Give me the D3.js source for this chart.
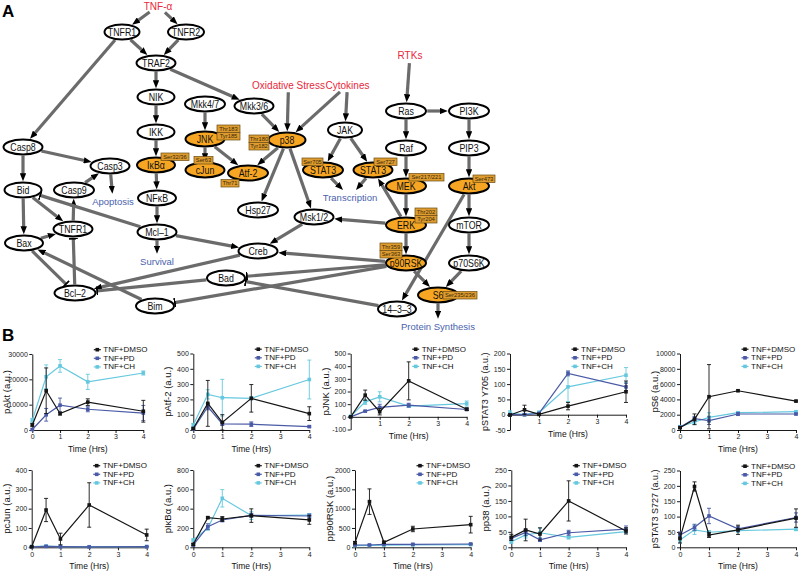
<!DOCTYPE html>
<html><head><meta charset="utf-8">
<script src="https://cdn.jsdelivr.net/npm/d3@7"></script>
<style>body{margin:0;background:#fff}svg{display:block}</style>
</head><body>
<svg id="c" width="800" height="574"></svg>
<script>
// ================= DATA =================
// Panel B: time points and series
const times = [0, 0.5, 1, 2, 4];
const seriesNames = ["TNF+DMSO", "TNF+PD", "TNF+CH"];
const xTicks = [0, 1, 2, 3, 4];

// each: [DMSO, PD, CH] means and errors at the time points
const pAktMean = [[2000,15500,6500,11000,7400],[200,6000,9800,8200,6700],[3800,21000,25300,19000,22500]];
const pAktErr  = [[500,9000,600,1300,4300],[300,2500,2800,1000,3000],[800,4700,2500,3000,800]];
const pAktTicks = [0,10000,20000,30000];

const pAtf2Mean = [[10,174,50,207,107],[5,152,40,38,22],[33,233,211,207,330]];
const pAtf2Err  = [[5,150,50,90,45],[3,20,10,15,5],[10,30,120,10,127]];
const pAtf2Ticks = [0,100,200,300,400,500];

const pJNKMean = [[0,171,40,284,60],[0,45,74,92,58],[5,118,158,84,105]];
const pJNKErr  = [[3,40,25,150,10],[3,5,25,15,5],[3,20,40,10,20]];
const pJNKTicks = [-100,0,100,200,300,400,500];

const pSTAT3YMean = [[-1,16,1,28,75],[0,0,4,135,91],[5,0,7,91,129]];
const pSTAT3YErr  = [[3,15,3,12,35],[3,3,3,8,12],[8,3,5,48,25]];
const pSTAT3YTicks = [-50,0,50,100,150,200];

const pS6Mean = [[300,1400,4350,5130,3780],[350,1480,1220,2090,2090],[430,1040,1650,2260,2390]];
const pS6Err  = [[100,700,4200,100,100],[100,300,500,200,100],[100,300,600,100,100]];
const pS6Ticks = [0,2000,4000,6000,8000,10000];

const pcJunMean = [[3,193,43,219,64],[2,5,3,2,3],[4,6,4,3,4]];
const pcJunErr  = [[2,60,30,115,30],[1,2,1,1,1],[1,2,1,1,1]];
const pcJunTicks = [0,100,200,300,400];

const pIkBaMean = [[31,307,293,328,283],[24,214,283,331,324],[76,197,507,328,334]];
const pIkBaErr  = [[10,10,25,70,45],[10,30,20,20,20],[10,20,90,40,15]];
const pIkBaTicks = [0,200,400,600,800];

const pp90RSKMean = [[120,1181,129,474,586],[60,60,78,78,86],[45,50,55,60,70]];
const pp90RSKErr  = [[30,330,30,70,215],[10,10,10,10,10],[10,10,10,10,10]];
const pp90RSKTicks = [0,500,1000,1500,2000];

const pp38Mean = [[32,56,43,150,53],[29,48,24,47,59],[18,40,47,32,51]];
const pp38Err  = [[10,35,20,65,10],[5,10,5,8,10],[5,10,15,5,5]];
const pp38Ticks = [0,50,100,150,200,250];

const pSTAT3SMean = [[29,198,40,57,95],[40,65,102,60,97],[24,57,49,54,59]];
const pSTAT3SErr  = [[15,15,8,15,30],[10,10,25,8,15],[10,15,5,5,5]];
const pSTAT3STicks = [0,50,100,150,200,250];

const chartNames = ["pAkt (a.u.)","pAtf-2 (a.u.)","pJNK (a.u.)","pSTAT3 Y705 (a.u.)","pS6 (a.u.)",
                    "pcJun (a.u.)","pI\u03BAB\u03B1 (a.u.)","pp90RSK (a.u.)","pp38 (a.u.)","pSTAT3 S727 (a.u.)"];
const chartMeans = [pAktMean,pAtf2Mean,pJNKMean,pSTAT3YMean,pS6Mean,pcJunMean,pIkBaMean,pp90RSKMean,pp38Mean,pSTAT3SMean];
const chartErrs  = [pAktErr,pAtf2Err,pJNKErr,pSTAT3YErr,pS6Err,pcJunErr,pIkBaErr,pp90RSKErr,pp38Err,pSTAT3SErr];
const chartTicks = [pAktTicks,pAtf2Ticks,pJNKTicks,pSTAT3YTicks,pS6Ticks,pcJunTicks,pIkBaTicks,pp90RSKTicks,pp38Ticks,pSTAT3STicks];

// Panel A: network
const nodeLabels = {
  TNFR1:"TNFR1", TNFR2:"TNFR2", TRAF2:"TRAF2", NIK:"NIK", IKK:"IKK", IkBa:"I\u03BAB\u03B1", NFkB:"NF\u03BAB",
  Mcl1:"Mcl\u20131", Mkk47:"Mkk4/7", JNK:"JNK", cJun:"cJun", Mkk36:"Mkk3/6", p38:"p38", Atf2:"Atf-2",
  Hsp27:"Hsp27", JAK:"JAK", STAT3a:"STAT3", STAT3b:"STAT3", Msk12:"Msk1/2", Creb:"Creb", Bad:"Bad",
  Bim:"Bim", Bcl2:"Bcl\u20132", Bax:"Bax", TNFR1b:"TNFR1", Bid:"Bid", Casp9:"Casp9", Casp8:"Casp8",
  Casp3:"Casp3", Ras:"Ras", PI3K:"PI3K", Raf:"Raf", PIP3:"PIP3", MEK:"MEK", Akt:"Akt", ERK:"ERK",
  mTOR:"mTOR", p90RSK:"p90RSK", p70S6K:"p70S6K", S6:"S6", b1433:"14\u20133\u20133"
};
const measured = ["IkBa","JNK","cJun","p38","Atf2","STAT3a","STAT3b","MEK","Akt","ERK","p90RSK","S6"];
const inputLabels = {TNFa:"TNF-\u03B1", Ox:"Oxidative Stress", Cyt:"Cytokines", RTKs:"RTKs"};
const outputLabels = {Apop:"Apoptosis", Surv:"Survival", Trans:"Transcription", Prot:"Protein Synthesis"};
const edges = [
  ["TNFa","TNFR1","a"],["TNFa","TNFR2","a"],["TNFR1","TRAF2","a"],["TNFR2","TRAF2","a"],["TNFR1","Casp8","a"],
  ["TRAF2","NIK","a"],["TRAF2","Mkk36","a"],["NIK","IKK","a"],["IKK","IkBa","a"],["IkBa","NFkB","a"],
  ["NFkB","Mcl1","a"],["Mcl1","Surv","a"],["Mkk47","JNK","a"],["JNK","cJun","a"],["JNK","Atf2","a"],
  ["Mkk36","p38","a"],["Ox","p38","a"],["Cyt","p38","a"],["Cyt","JAK","a"],["p38","Atf2","a"],
  ["p38","Hsp27","a"],["p38","Msk12","a"],["JAK","STAT3a","a"],["JAK","STAT3b","a"],["STAT3a","Trans","a"],
  ["STAT3b","Trans","a"],["ERK","STAT3b","a"],["RTKs","Ras","a"],["Ras","PI3K","a"],["Ras","Raf","a"],
  ["Raf","MEK","a"],["PI3K","PIP3","a"],["PIP3","Akt","a"],["MEK","ERK","a"],["Akt","mTOR","a"],
  ["Akt","b1433","a"],["ERK","Msk12","a"],["ERK","p90RSK","a"],["mTOR","p70S6K","a"],["p70S6K","S6","a"],
  ["p90RSK","S6","a"],["S6","Prot","a"],["Msk12","Creb","a"],["Mcl1","Creb","a"],["p90RSK","Creb","a"],
  ["p90RSK","Bad","i"],["p90RSK","Bim","i"],["Creb","Bcl2","a"],["Bad","Bcl2","i"],["b1433","Bad","i"],
  ["Bim","Bax","a"],["Bax","Bcl2","i"],["Bcl2","TNFR1b","i"],["TNFR1b","Casp9","a"],["Bax","TNFR1b","a"],
  ["Bid","TNFR1b","a"],["Bid","Bax","a"],["Casp8","Bid","a"],["Casp8","Casp3","a"],["Casp9","Casp3","a"],
  ["Casp3","Apop","a"],["Mcl1","Bid","i"]
];
const sites = [
  ["IkBa",["Ser32/36"]],["JNK",["Thr183","Tyr185"]],["cJun",["Ser63"]],["p38",["Thr180","Tyr182"]],
  ["Atf2",["Thr71"]],["STAT3a",["Ser705"]],["STAT3b",["Ser727"]],["MEK",["Ser217/221"]],["Akt",["Ser473"]],
  ["ERK",["Thr202","Tyr204"]],["p90RSK",["Thr359","Ser363"]],["S6",["Ser235/236"]]
];

// ================= LAYOUT (positions / sizes) =================
const nodePos = {
  TNFR1:[122,32,17.5], TNFR2:[186,32,18], TRAF2:[156,63,19.5], NIK:[156,97,18.5], IKK:[156,132,18.5],
  IkBa:[156,165,19], NFkB:[157,198,19], Mcl1:[157,232,19.5], Mkk47:[205,104,20], JNK:[205,139,19.5],
  cJun:[205,170,19.5], Mkk36:[254,106,19.5], p38:[287,140,18.5], Atf2:[248,173,20], Hsp27:[258,210,20],
  JAK:[345,130,17], STAT3a:[323,170,20], STAT3b:[373,170,19.5], Msk12:[314,217,19.5], Creb:[258,251,19.5],
  Bad:[226,278,19], Bim:[155,306,19], Bcl2:[75,293,20.5], Bax:[24,243,19], TNFR1b:[73,229,19.5],
  Bid:[23,190,18.5], Casp9:[74,190,20], Casp8:[23,147,19.5], Casp3:[110,166,19.5], Ras:[406,111,20],
  PI3K:[469,111,20], Raf:[406,148,20], PIP3:[469,148,20], MEK:[406,186,20], Akt:[469,186,20],
  ERK:[406,225,20], mTOR:[469,225,20], p90RSK:[406,263,20], p70S6K:[469,263,20], S6:[438,295,20],
  b1433:[397,309,19]
};
const textPos = {
  TNFa:[158,6,14,6], Ox:[288.5,85,36,6], Cyt:[347.5,85,22,6], RTKs:[410,55,13,7],
  Apop:[113,201,22,6], Surv:[157,261,18,6], Trans:[350,197,28,6], Prot:[438,326,36,6]
};
const sitePos = {
  IkBa:[161,153,28], JNK:[217,125,23], cJun:[194,156.5,19], p38:[249,135,20], Atf2:[221,179.5,18],
  STAT3a:[302,158,21], STAT3b:[374,158,23], MEK:[409,173.5,35], Akt:[473,175,22], ERK:[415,208,22],
  p90RSK:[380,243,22], S6:[443,291.5,34]
};
const panels = [
  {x0:32.3,x1:143.3,yt:354,yb:430},{x0:193.3,x1:309.3,yt:353.5,yb:430},{x0:350.7,x1:466.7,yt:353.5,yb:429.5},
  {x0:510,x1:626,yt:353.5,yb:430},{x0:680,x1:796,yt:353.5,yb:430},
  {x0:31.7,x1:146.7,yt:470,yb:547.3},{x0:193.3,x1:309.3,yt:470,yb:547.3},{x0:355,x1:470.7,yt:470,yb:547.3},
  {x0:511.3,x1:626,yt:470,yb:547.3},{x0:680,x1:796,yt:470.5,yb:547.3}
];
const seriesColors = ["#151515","#4a5aa6","#66c8de"];

// ================= DRAW =================
const F = "'Liberation Sans', Arial, sans-serif";
const svg = d3.select("#c");
const defs = svg.append("defs");
defs.append("marker").attr("id","arr").attr("viewBox","0 0 10 8").attr("refX",2.5).attr("refY",4)
  .attr("markerWidth",8).attr("markerHeight",6.4).attr("markerUnits","userSpaceOnUse").attr("orient","auto")
  .append("path").attr("d","M0,0L10,4L0,8Z").attr("fill","#000");
defs.append("marker").attr("id","bar").attr("viewBox","0 0 2 10").attr("refX",1).attr("refY",5)
  .attr("markerWidth",1.8).attr("markerHeight",9).attr("markerUnits","userSpaceOnUse").attr("orient","auto")
  .append("rect").attr("width",2).attr("height",10).attr("fill","#000");

// panel letters
svg.append("text").attr("x",2).attr("y",16.5).attr("font-family",F).attr("font-weight","bold").attr("font-size",17).text("A");
svg.append("text").attr("x",2).attr("y",340.5).attr("font-family",F).attr("font-weight","bold").attr("font-size",17).text("B");

// ---- network ----
const N = {};
Object.keys(nodePos).forEach(k=>{const p=nodePos[k]; N[k]={x:p[0],y:p[1],rx:p[2],ry:7.5};});
Object.keys(textPos).forEach(k=>{const p=textPos[k]; N[k]={x:p[0],y:p[1],rx:p[2],ry:p[3]};});
function clip(n,dx,dy,pad){
  const t=1/Math.sqrt((dx/(n.rx+pad))**2+(dy/(n.ry+pad))**2);
  return [n.x+dx*t,n.y+dy*t];
}
const gE = svg.append("g");
edges.forEach(([s,t,type])=>{
  const a=N[s], b=N[t];
  const dx=b.x-a.x, dy=b.y-a.y, L=Math.hypot(dx,dy);
  const p0=clip(a,dx,dy,1.2);
  const p1=clip(b,-dx,-dy,type==="a"?1.2:2.2);
  let ex=p1[0], ey=p1[1];
  if(type==="a"){ex-=dx/L*6; ey-=dy/L*6;}
  gE.append("line").attr("x1",p0[0]).attr("y1",p0[1]).attr("x2",ex).attr("y2",ey)
    .attr("stroke","#6b6b6b").attr("stroke-width",3.2)
    .attr("marker-end", type==="a"?"url(#arr)":"url(#bar)");
});
const gN = svg.append("g");
Object.keys(nodePos).forEach(k=>{
  const n=N[k];
  gN.append("ellipse").attr("cx",n.x).attr("cy",n.y).attr("rx",n.rx).attr("ry",n.ry)
    .attr("fill", measured.includes(k)?"#f6a623":"#fff").attr("stroke","#000").attr("stroke-width",2);
  const t=gN.append("text").attr("transform",`translate(${n.x},${n.y+0.3}) scale(0.88,1)`)
    .attr("text-anchor","middle").attr("dominant-baseline","central")
    .attr("font-family",F).attr("font-size",10).attr("fill","#111").text(nodeLabels[k]);
  const w=t.node().getComputedTextLength()*0.88, maxW=2*n.rx-5;
  if(w>maxW) t.attr("font-size",10*maxW/w);
});
Object.keys(inputLabels).forEach(k=>{
  const n=N[k];
  gN.append("text").attr("x",n.x).attr("y",n.y).attr("text-anchor","middle").attr("dominant-baseline","central")
    .attr("font-family",F).attr("font-size",10).attr("fill","#e8283c").text(inputLabels[k]);
});
Object.keys(outputLabels).forEach(k=>{
  const n=N[k];
  gN.append("text").attr("x",n.x).attr("y",n.y).attr("text-anchor","middle").attr("dominant-baseline","central")
    .attr("font-family",F).attr("font-size",9.5).attr("fill","#4a62ad").text(outputLabels[k]);
});
sites.forEach(([k,lines])=>{
  const p=sitePos[k];
  lines.forEach((s,i)=>{
    const y0=p[1]+i*7.5;
    gN.append("rect").attr("x",p[0]).attr("y",y0).attr("width",p[2]).attr("height",7.5)
      .attr("fill","#dd9b30").attr("stroke","#6b4a10").attr("stroke-width",0.7);
    gN.append("text").attr("x",p[0]+p[2]/2).attr("y",y0+3.9).attr("text-anchor","middle").attr("dominant-baseline","central")
      .attr("font-family",F).attr("font-size",5.8).attr("fill","#3b2a05").text(s);
  });
});

// ---- charts ----
chartNames.forEach((name,i)=>{
  const P=panels[i], ticks=chartTicks[i], means=chartMeans[i], errs=chartErrs[i];
  const g=svg.append("g");
  const x=d3.scaleLinear().domain([0,4]).range([P.x0,P.x1]);
  const y=d3.scaleLinear().domain([ticks[0],ticks[ticks.length-1]]).range([P.yb,P.yt]);
  const neg=ticks[0]<0;
  const ax0=neg?y(0):P.yb;
  const yAx=g.append("g").attr("transform",`translate(${P.x0},0)`)
    .call(d3.axisLeft(y).tickValues(ticks).tickSize(3).tickSizeOuter(0).tickPadding(1.5).tickFormat(d=>String(d)));
  const xAx=g.append("g").attr("transform",`translate(0,${ax0})`)
    .call(d3.axisBottom(x).tickValues(neg?[1,2,3,4]:xTicks).tickSize(3).tickSizeOuter(0).tickPadding(1.5).tickFormat(d=>String(d)));
  [yAx,xAx].forEach(a=>{
    a.attr("font-size",7).attr("font-family",F);
    a.selectAll("text").attr("fill","#222");
    a.selectAll("line,path").attr("stroke","#000").attr("stroke-width",0.9);
  });
  // series: draw CH, PD, DMSO order
  [2,1,0].forEach(s=>{
    const col=seriesColors[s];
    const pts=times.map((t,j)=>[t,means[s][j],errs[s][j]]);
    g.append("path").datum(pts).attr("fill","none").attr("stroke",col).attr("stroke-width",1.2)
      .attr("d",d3.line().x(d=>x(d[0])).y(d=>y(d[1])));
    pts.forEach(d=>{
      const xx=x(d[0]), y1=y(d[1]-d[2]), y2=y(d[1]+d[2]);
      g.append("line").attr("x1",xx).attr("x2",xx).attr("y1",y1).attr("y2",y2).attr("stroke",col).attr("stroke-width",0.9);
      [y1,y2].forEach(yy=>g.append("line").attr("x1",xx-2).attr("x2",xx+2).attr("y1",yy).attr("y2",yy).attr("stroke",col).attr("stroke-width",0.9));
      g.append("rect").attr("x",xx-1.8).attr("y",y(d[1])-1.8).attr("width",3.6).attr("height",3.6).attr("fill",col);
    });
  });
  // legend
  const lx=P.x0+65, lys=[P.yt-4.3,P.yt+4.3,P.yt+12.9];
  seriesNames.forEach((sn,s)=>{
    const col=seriesColors[s];
    g.append("line").attr("x1",lx-3.5).attr("x2",lx+3.5).attr("y1",lys[s]).attr("y2",lys[s]).attr("stroke",col).attr("stroke-width",1.2);
    g.append("rect").attr("x",lx-1.8).attr("y",lys[s]-1.8).attr("width",3.6).attr("height",3.6).attr("fill",col);
    g.append("text").attr("x",lx+6).attr("y",lys[s]).attr("dominant-baseline","central")
      .attr("font-family",F).attr("font-size",8).attr("fill","#111").text(sn);
  });
  // axis titles
  const yl=g.append("text").attr("transform",`translate(${P.x0-22},${(P.yt+P.yb)/2}) rotate(-90)`)
    .attr("text-anchor","middle").attr("font-family",F).attr("font-size",9.5).attr("fill","#111").text(name);
  const H=P.yb-P.yt+2, w=yl.node().getComputedTextLength();
  if(w>H) yl.attr("font-size",9.5*H/w);
  g.append("text").attr("x",(P.x0+P.x1)/2).attr("y",ax0+22).attr("text-anchor","middle")
    .attr("font-family",F).attr("font-size",8.5).attr("fill","#111").text("Time (Hrs)");
});
</script>
</body></html>
